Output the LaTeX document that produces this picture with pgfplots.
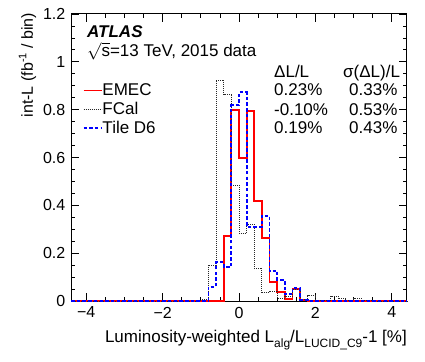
\documentclass[border=0pt]{standalone}
\usepackage{fontspec}
\setmainfont{Liberation Sans}
\usepackage{pgfplots}
\pgfplotsset{compat=1.18}

\definecolor{emec}{RGB}{255,0,0}
\definecolor{tiled}{RGB}{0,0,255}
\definecolor{fcal}{RGB}{40,40,40}

\newcommand{\rsub}[1]{\raisebox{-5bp}{\fontsize{12bp}{12bp}\selectfont #1}}
\newcommand{\rsup}[1]{\raisebox{6.5bp}{\fontsize{11bp}{12bp}\selectfont #1}}

\begin{document}
\begin{tikzpicture}[font=\fontsize{17bp}{20bp}\selectfont]
\useasboundingbox (-71bp,-61bp) rectangle (354bp,301bp);
\begin{axis}[
    at={(0,0)}, anchor=south west,
    scale only axis, width=336bp, height=287bp,
    xmin=-4.4, xmax=4.4, ymin=0, ymax=1.2,
    clip=false,
    xtick={-4,-2,0,2,4}, xticklabels={−4,−2,0,2,4},
    ytick={0,0.2,0.4,0.6,0.8,1,1.2}, yticklabels={0,0.2,0.4,0.6,0.8,1,1.2},
    minor x tick num=3, minor y tick num=3,
    xtick pos=both, ytick pos=both, ticklabel pos=left,
    tick align=inside, major tick length=8bp, minor tick length=4bp,
    tick style={black, line width=0.8bp},
    axis line style={black, line width=1bp},
    /pgf/number format/assume math mode=true,
    ticklabel style={font=\fontsize{16bp}{19bp}\selectfont},
    xticklabel style={anchor=north, inner sep=0pt, yshift=-5.7bp},
    yticklabel style={anchor=east, inner sep=0pt, xshift=-5.5bp},
    xlabel={Luminosity-weighted L\rsub{alg}/L\rsub{LUCID\_C9}-1 [\%]},
    xlabel style={at={(axis description cs:1,-0.1463)}, anchor=base east, inner sep=0pt},
    ylabel={int-L (fb\rsup{-1} / bin)},
    ylabel style={at={(axis description cs:-0.1131,1.0035)}, anchor=base east, inner sep=0pt,
        font=\fontsize{16bp}{19bp}\selectfont},
    legend cell align=left,
    legend style={at={(axis description cs:0.0348,0.7561)}, anchor=north west,
        draw=none, fill=none, inner sep=0pt, outer sep=0pt, row sep=0pt,
        cells={anchor=base west},
        nodes={inner sep=0pt, text height=12bp, text depth=6.8bp}},
    legend image code/.code={\draw[#1] (0bp,5.5bp) -- (18bp,5.5bp);},
    /tikz/every even column/.append style={column sep=7.6bp},
]
% EMEC
\addplot[emec, line width=1.8bp, const plot mark left] coordinates {
    (-4.4,0) (-0.4,0.272) (-0.2,0.800) (0.0,0.598) (0.2,0.795) (0.4,0.418)
    (0.6,0.262) (0.8,0.081) (1.0,0.036) (1.2,0.008) (1.4,0.049) (1.6,0.003)
    (1.8,0) (4.4,0)};
\addlegendentry{EMEC}
% FCal
\addplot[fcal, line width=0.9bp, dash pattern=on 1bp off 1bp, const plot mark left] coordinates {
    (-4.4,0) (-1.0,0.005) (-0.8,0.150) (-0.6,0.924) (-0.4,0.862) (-0.2,0.485)
    (0.0,0.283) (0.2,0.320) (0.4,0.138) (0.6,0.035) (0.8,0.040) (1.0,0.012)
    (1.2,0.020) (1.4,0.047) (1.6,0.008) (1.8,0.022) (2.0,0.004) (2.2,0.002)
    (2.4,0.020) (2.6,0.010) (2.8,0.003) (3.0,0.012) (3.2,0.004) (3.4,0.002)
    (3.6,0) (4.4,0)};
\addlegendentry{FCal}
% Tile D6
\addplot[tiled, line width=1.8bp, dash pattern=on 3.5bp off 2.2bp, const plot mark left] coordinates {
    (-4.4,0) (-0.8,0.060) (-0.6,0.164) (-0.4,0.143) (-0.2,0.818) (0.0,0.873)
    (0.2,0.310) (0.4,0.310) (0.6,0.357) (0.8,0.127) (1.0,0.088) (1.2,0.028)
    (1.4,0.054) (1.6,0.004) (1.8,0) (4.4,0)};
\addlegendentry{Tile D6}

\node[anchor=base west, inner sep=0pt] at (axis description cs:0.0476,0.9188) {\bfseries\itshape ATLAS};
\node[anchor=base west, inner sep=0pt] at (axis description cs:0.0476,0.8512) {$\sqrt{\mbox{s}}$=13 TeV, 2015 data};

\node[anchor=base west, inner sep=0pt] at (axis description cs:0.6042,0.7787) {ΔL/L};
\node[anchor=base west, inner sep=0pt] at (axis description cs:0.8095,0.7787) {σ(ΔL)/L};
\node[anchor=base west, inner sep=0pt] at (axis description cs:0.6042,0.7143) {0.23\%};
\node[anchor=base west, inner sep=0pt] at (axis description cs:0.6042,0.6470) {-0.10\%};
\node[anchor=base west, inner sep=0pt] at (axis description cs:0.6042,0.5833) {0.19\%};
\node[anchor=base west, inner sep=0pt] at (axis description cs:0.8274,0.7143) {0.33\%};
\node[anchor=base west, inner sep=0pt] at (axis description cs:0.8274,0.6470) {0.53\%};
\node[anchor=base west, inner sep=0pt] at (axis description cs:0.8274,0.5833) {0.43\%};
\end{axis}
\end{tikzpicture}
\end{document}
